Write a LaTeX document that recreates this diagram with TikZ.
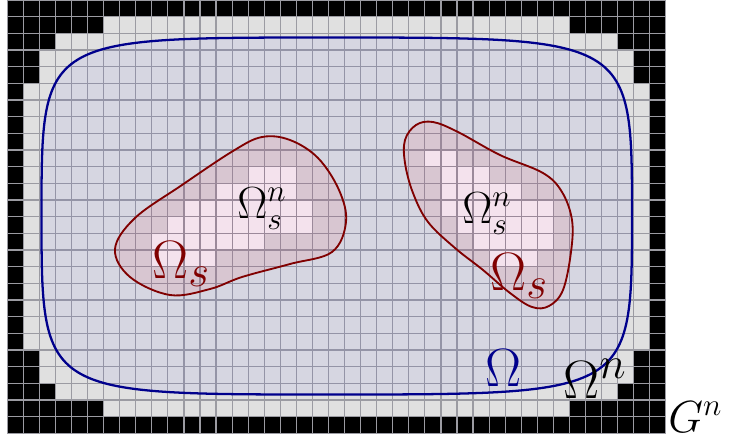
\documentclass[tikz,border=0pt]{standalone}
\definecolor{cellgray}{RGB}{224,224,224}
\definecolor{gridc}{RGB}{155,155,162}
\definecolor{omegablue}{RGB}{0,0,140}
\definecolor{omegared}{RGB}{128,0,0}
\newcommand\cellblock[5]{\fill[#5] ({7.3+(#1)*16.06},{(#3)*16.67}) rectangle ({7.3+(#2+1)*16.06},{(#4+1)*16.67});}
\begin{document}
\begin{tikzpicture}[x=0.4608pt,y=-0.4608pt,
  gridline/.style={draw=gridc,line width=0.55pt},
  omegaline/.style={draw=omegablue,line width=1.05pt},
  subline/.style={draw=omegared,line width=0.85pt},
  lbl/.style={inner sep=0pt,anchor=base west}]
\useasboundingbox (0,0) rectangle (730,439);
% cells
\cellblock{0}{40}{0}{25}{cellgray}
\cellblock{0}{40}{0}{0}{black}
\cellblock{0}{40}{25}{25}{black}
\cellblock{0}{0}{0}{25}{black}
\cellblock{40}{40}{0}{25}{black}
\cellblock{0}{5}{1}{1}{black}\cellblock{35}{40}{1}{1}{black}
\cellblock{0}{5}{24}{24}{black}\cellblock{35}{40}{24}{24}{black}
\cellblock{0}{2}{2}{2}{black}\cellblock{38}{40}{2}{2}{black}
\cellblock{0}{2}{23}{23}{black}\cellblock{38}{40}{23}{23}{black}
\cellblock{0}{1}{3}{4}{black}\cellblock{39}{40}{3}{4}{black}
\cellblock{0}{1}{21}{22}{black}\cellblock{39}{40}{21}{22}{black}
% discrete sub-domain cells
\cellblock{15}{17}{10}{10}{white}
\cellblock{13}{17}{11}{11}{white}
\cellblock{11}{18}{12}{12}{white}
\cellblock{10}{18}{13}{13}{white}
\cellblock{9}{15}{14}{14}{white}
\cellblock{9}{12}{15}{15}{white}
\cellblock{26}{27}{9}{9}{white}
\cellblock{27}{29}{10}{10}{white}
\cellblock{27}{31}{11}{11}{white}
\cellblock{27}{33}{12}{12}{white}
\cellblock{28}{33}{13}{13}{white}
\cellblock{29}{33}{14}{14}{white}
\cellblock{30}{32}{15}{15}{white}
% grid lines
\foreach \k in {0,...,41} \draw[gridline] ({7.3+\k*16.06},0) -- ({7.3+\k*16.06},433.42);
\foreach \r in {0,...,26} \draw[gridline] (7.3,{\r*16.67}) -- (665.76,{\r*16.67});
% Omega
\coordinate (oL) at (41.5,215);
\coordinate (oT) at (330,37.5);
\coordinate (oR) at (632,215);
\coordinate (oB) at (330,394.5);
\path[fill=blue,fill opacity=0.045] (oL) .. controls (41.5,37.5) .. (oT) .. controls (632,37.5) .. (oR) .. controls (632,394.5) .. (oB) .. controls (41.5,394.5) .. (oL) -- cycle;
% Omega_s
\path[fill=red,fill opacity=0.07] plot[smooth cycle,tension=0.6] coordinates {(115,249) (130,277) (170,295) (210,289) (242,277) (290,264) (332,252) (346,222) (339,190) (318,158) (290,140) (262,137) (233,151) (182,185) (135,218)};
\path[fill=red,fill opacity=0.07] plot[smooth cycle,tension=0.6] coordinates {(405,140) (416,125) (433,122) (458,132) (500,155) (543,173) (562,192) (572,220) (571,252) (563,290) (549,306) (532,307) (510,293) (483,270) (455,248) (428,222) (413,193) (405,163)};
\draw[subline] plot[smooth cycle,tension=0.6] coordinates {(115,249) (130,277) (170,295) (210,289) (242,277) (290,264) (332,252) (346,222) (339,190) (318,158) (290,140) (262,137) (233,151) (182,185) (135,218)};
\draw[subline] plot[smooth cycle,tension=0.6] coordinates {(405,140) (416,125) (433,122) (458,132) (500,155) (543,173) (562,192) (572,220) (571,252) (563,290) (549,306) (532,307) (510,293) (483,270) (455,248) (428,222) (413,193) (405,163)};
\draw[omegaline] (oL) .. controls (41.5,37.5) .. (oT) .. controls (632,37.5) .. (oR) .. controls (632,394.5) .. (oB) .. controls (41.5,394.5) .. (oL) -- cycle;
% labels
\node[lbl,text=omegared,font=\Huge] (ls1) at (152,278) {$\Omega_s$};
\node[lbl,font=\huge] (ln1) at (237,218) {$\Omega_s^n$};
\node[lbl,font=\huge] (ln2) at (462,223) {$\Omega_s^n$};
\node[lbl,text=omegared,font=\Huge] (ls2) at (490,290) {$\Omega_s$};
\node[lbl,text=omegablue,font=\Huge] (lo) at (485,386) {$\Omega$};
\node[lbl,font=\Huge] (lon) at (563,398) {$\Omega^n$};
\node[lbl,font=\huge] (lg) at (668,432) {$G^n$};
\end{tikzpicture}
\end{document}
